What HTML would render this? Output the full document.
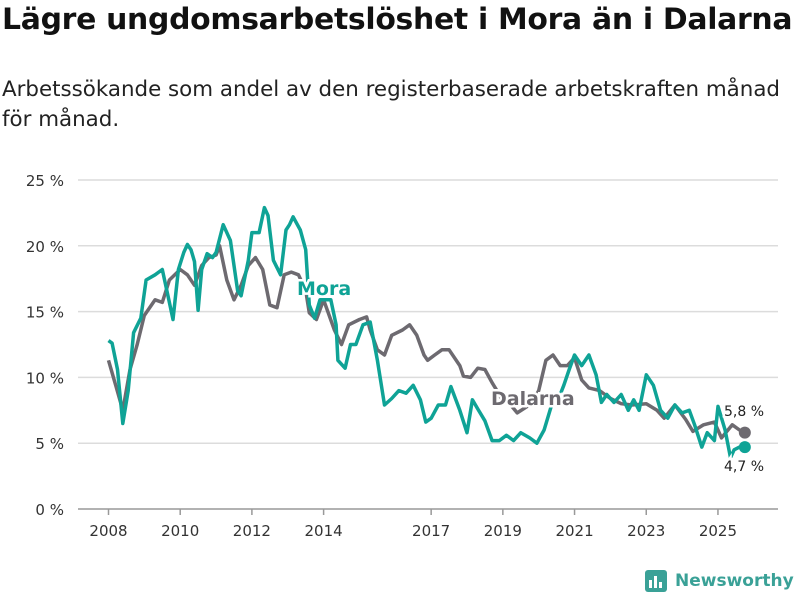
<!DOCTYPE html>
<html><head><meta charset="utf-8"><style>
body{margin:0;background:#fff;width:800px;height:600px;overflow:hidden;font-family:"Liberation Sans","DejaVu Sans",sans-serif}
h1{position:absolute;left:2px;top:2px;margin:0;font-size:29px;font-weight:bold;color:#111;letter-spacing:-0.3px;font-family:"DejaVu Sans",sans-serif;transform:scaleX(1.03);transform-origin:left;white-space:nowrap}
p{position:absolute;left:2px;top:74px;margin:0;font-size:21px;line-height:30px;color:#222;width:770px;font-family:"DejaVu Sans",sans-serif;transform:scaleX(1.018);transform-origin:left}
</style></head><body>
<h1>Lägre ungdomsarbetslöshet i Mora än i Dalarna</h1>
<p>Arbetssökande som andel av den registerbaserade arbetskraften månad för månad.</p>
<svg id="c" width="800" height="600" style="position:absolute;left:0;top:0"></svg>
<script>
const yTicks=[0,5,10,15,20,25];
const xTicks=[2008,2010,2012,2014,2017,2019,2021,2023,2025];
const dalT=[2008.0,2008.2,2008.4,2008.6,2008.8,2009.0,2009.3,2009.5,2009.7,2010.0,2010.2,2010.4,2010.6,2010.8,2011.0,2011.1,2011.3,2011.5,2011.7,2011.9,2012.1,2012.3,2012.5,2012.7,2012.9,2013.1,2013.3,2013.5,2013.6,2013.8,2014.0,2014.3,2014.5,2014.7,2015.0,2015.2,2015.3,2015.5,2015.7,2015.9,2016.2,2016.4,2016.6,2016.8,2016.9,2017.1,2017.3,2017.5,2017.8,2017.9,2018.1,2018.3,2018.5,2018.7,2018.9,2019.0,2019.1,2019.4,2019.8,2020.0,2020.2,2020.4,2020.6,2020.8,2021.0,2021.2,2021.4,2021.7,2022.0,2022.3,2022.6,2023.0,2023.3,2023.5,2023.8,2024.1,2024.3,2024.6,2024.9,2025.1,2025.4,2025.6,2025.75];
const dalV=[11.3,9.4,7.5,10.6,12.5,14.7,15.9,15.7,17.4,18.2,17.8,17,18.5,19.1,19.3,20,17.4,15.9,17,18.5,19.1,18.2,15.5,15.3,17.8,18,17.8,16.6,14.9,14.4,15.9,13.6,12.5,14,14.4,14.6,13.6,12.1,11.7,13.2,13.6,14,13.2,11.7,11.3,11.7,12.1,12.1,10.9,10.1,10,10.7,10.6,9.6,8.7,8.1,8.3,7.3,8.0,9,11.3,11.7,10.9,10.9,11.5,9.8,9.2,9,8.4,8,7.9,8,7.5,6.9,7.9,6.8,5.9,6.4,6.6,5.4,6.4,6,5.8];
const moraT=[2008.0,2008.1,2008.25,2008.4,2008.55,2008.7,2008.9,2009.05,2009.3,2009.5,2009.65,2009.8,2009.95,2010.1,2010.2,2010.3,2010.4,2010.5,2010.6,2010.75,2010.9,2011.0,2011.2,2011.4,2011.6,2011.7,2011.9,2012.0,2012.2,2012.35,2012.45,2012.6,2012.8,2012.95,2013.05,2013.15,2013.35,2013.5,2013.6,2013.75,2013.9,2014.2,2014.35,2014.4,2014.6,2014.75,2014.9,2015.1,2015.3,2015.5,2015.7,2015.9,2016.1,2016.3,2016.5,2016.7,2016.85,2017.0,2017.2,2017.4,2017.55,2017.8,2018.0,2018.15,2018.3,2018.5,2018.7,2018.9,2019.1,2019.3,2019.5,2019.75,2019.95,2020.15,2020.35,2020.6,2020.7,2020.85,2021.0,2021.2,2021.4,2021.6,2021.75,2021.9,2022.1,2022.3,2022.5,2022.65,2022.8,2023.0,2023.2,2023.4,2023.6,2023.8,2024.0,2024.2,2024.35,2024.55,2024.7,2024.9,2025.0,2025.2,2025.35,2025.45,2025.6,2025.75];
const moraV=[12.8,12.6,10.6,6.5,9,13.4,14.5,17.4,17.8,18.2,16.3,14.4,18.2,19.5,20.1,19.7,18.8,15.1,18.2,19.4,19.1,19.5,21.6,20.4,16.6,16.2,18.9,21,21,22.9,22.3,18.9,17.8,21.2,21.6,22.2,21.2,19.7,15.5,14.5,15.9,15.9,14,11.3,10.7,12.5,12.5,14,14.2,11.3,7.9,8.4,9,8.8,9.4,8.3,6.6,6.9,7.9,7.9,9.3,7.5,5.8,8.3,7.6,6.7,5.2,5.2,5.6,5.2,5.8,5.4,5,6,7.8,8.7,9.4,10.6,11.7,10.9,11.7,10.2,8.1,8.7,8.1,8.7,7.5,8.3,7.5,10.2,9.4,7.5,6.9,7.9,7.3,7.5,6.4,4.7,5.8,5.2,7.8,6,3.9,4.5,4.7,4.7];
const X=t=>108.5+(t-2008)*35.85, Y=v=>509-v*13.16;
const svg=document.getElementById('c'),NS='http://www.w3.org/2000/svg';
function mk(tag,at,txt){const e=document.createElementNS(NS,tag);for(const k in at)e.setAttribute(k,at[k]);if(txt!=null)e.textContent=txt;svg.appendChild(e);return e;}
const F='"DejaVu Sans","Liberation Sans",sans-serif';
yTicks.forEach(v=>{
 const g=mk('line',{x1:78,x2:778,y1:Y(v),y2:Y(v),stroke:v?'#dcdcdc':'#999','stroke-width':1.5});
 
 
 const t=mk('text',{x:64,y:Y(v)+6,'text-anchor':'end','font-size':15,fill:'#333','font-family':F},v+' %');
 
 
});
xTicks.forEach(y=>{
 const l=mk('line',{x1:X(y),x2:X(y),y1:509,y2:515,stroke:'#999','stroke-width':1.5});
 
 
 const t=mk('text',{x:X(y),y:536,'text-anchor':'middle','font-size':15,fill:'#333','font-family':F},y);
 
 
});
function line(T,V,col,name){
 const d=T.map((t,i)=>(i?'L':'M')+X(t).toFixed(1)+','+Y(V[i]).toFixed(1)).join('');
 const p=mk('path',{d:d,fill:'none',stroke:col,'stroke-width':3.5,'stroke-linejoin':'round'});
 
 
 const c=mk('circle',{cx:X(T[T.length-1]),cy:Y(V[V.length-1]),r:6,fill:col});
 
 
}
line(dalT,dalV,'#6d6a70','dalarna-line');
line(moraT,moraV,'#0fa396','mora-line');
function lab(x,y,txt,col,name,size,w){
 const t=mk('text',{x:x,y:y,'font-size':size,'font-weight':w,fill:col,stroke:'#fff','stroke-width':5,'paint-order':'stroke','font-family':F},txt);
 
 
}
lab(297,295,'Mora','#0fa396','mora-label',19,'bold');
lab(491,405,'Dalarna','#6d6a70','dalarna-label',19,'bold');
lab(724,416,'5,8 %','#222','dalarna-end-value',14,'normal');
lab(724,471,'4,7 %','#222','mora-end-value',14,'normal');
</script>
<div style="position:absolute;left:645px;top:570px;display:flex;align-items:center;color:#3aa197;font-weight:bold;font-size:17px;font-family:'DejaVu Sans',sans-serif;white-space:nowrap">
<div style="width:22px;height:22px;background:#3aa197;border-radius:3px;margin-right:8px;position:relative"><div style="position:absolute;left:4px;bottom:4px;width:3px;height:8px;background:#fff"></div><div style="position:absolute;left:9px;bottom:4px;width:3px;height:12px;background:#fff"></div><div style="position:absolute;left:14px;bottom:4px;width:3px;height:6px;background:#fff"></div></div>Newsworthy</div>
</body></html>
